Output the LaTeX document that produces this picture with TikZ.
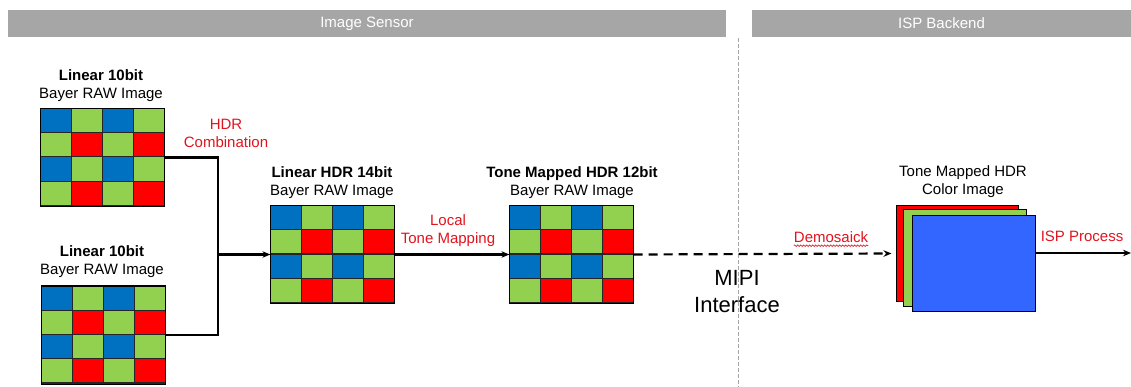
\documentclass[tikz,border=0pt]{standalone}
\usepackage{fontspec}
\setmainfont{Liberation Sans}
\usetikzlibrary{arrows.meta,calc,decorations.pathmorphing}
\definecolor{bblue}{HTML}{0070C0}
\definecolor{bgreen}{HTML}{92D050}
\definecolor{bred}{HTML}{FF0000}
\definecolor{hdrgray}{HTML}{A6A6A6}
\definecolor{lblred}{HTML}{E0141E}
\definecolor{imgblue}{HTML}{3366FF}
\tikzset{
  hdrbar/.style={fill=hdrgray,draw=none,inner sep=0pt,text=white,font=\fontsize{15}{17}\selectfont},
  gridbox/.style={draw=black,line width=1.2pt,minimum width=123pt,minimum height=97pt,inner sep=0pt},
  lbl/.style={align=center,inner sep=0pt,font=\fontsize{15}{18}\selectfont},
  redlbl/.style={lbl,text=lblred},
  conn/.style={line width=2.2pt,black},
  tip/.style={-{Stealth[length=8pt,width=6.5pt]}},
  dashconn/.style={conn,dash pattern=on 9pt off 6pt},
  layer/.style={draw=black,line width=1pt,inner sep=0pt},
}
\newcommand\bayergrid[1]{%
  \foreach \r in {0,1,2,3}{\foreach \c in {0,1,2,3}{%
    \pgfmathtruncatemacro\ev{mod(\r,2)}%
    \pgfmathtruncatemacro\ec{mod(\c,2)}%
    \ifnum\ev=0 \ifnum\ec=0 \def\cc{bblue}\else\def\cc{bgreen}\fi
    \else \ifnum\ec=0 \def\cc{bgreen}\else\def\cc{bred}\fi\fi
    \path[fill=\cc,draw=black!85,line width=1.2pt]
      ($(#1.north west)!{\c/4}!(#1.north east)$) ++(0,{24.25*\r}) rectangle ++(30.75,24.25);
  }}%
  \draw[line width=1.2pt] (#1.north west) rectangle (#1.south east);
}
\begin{document}
\begin{tikzpicture}[x=1pt,y=-1pt]
\useasboundingbox (0,0) rectangle (1131,387);
% headers
\node[hdrbar,minimum width=718pt,minimum height=27pt] (hs) at (367,23.5) {Image Sensor};
\node[hdrbar,minimum width=379pt,minimum height=27pt] (hi) at (941.5,23.5) {ISP Backend};
% separator
\coordinate (septop) at (738,38);
\coordinate (sepbot) at (738,387);
\draw[black!35,line width=1pt,dash pattern=on 4pt off 2pt] (septop) -- (sepbot);
% grids
\node[gridbox] (g1) at (102.5,157.5) {};
\node[gridbox] (g2) at (103.5,335) {};
\node[gridbox] (g3) at (332.5,254.5) {};
\node[gridbox] (g4) at (571.5,254.5) {};
\bayergrid{g1}\bayergrid{g2}\bayergrid{g3}\bayergrid{g4}
% labels
\node[lbl] (l1) at (101,86) {\textbf{Linear 10bit}\\Bayer RAW Image};
\node[lbl] (l2) at (102,262) {\textbf{Linear 10bit}\\Bayer RAW Image};
\node[lbl] (l3) at (332,183) {\textbf{Linear HDR 14bit}\\Bayer RAW Image};
\node[lbl] (l4) at (572,183) {\textbf{Tone Mapped HDR 12bit}\\Bayer RAW Image};
\node[lbl] (l5) at (963,182) {Tone Mapped HDR\\Color Image};
\node[redlbl] (hdrc) at (226,133) {HDR\\Combination};
\node[redlbl] (ltm) at (448,231) {Local\\Tone Mapping};
\node[redlbl] (demo) at (831,237) {Demosaick};
\node[redlbl] (ispp) at (1082,236) {ISP Process};
\node[align=center,inner sep=0pt,font=\fontsize{22}{27}\selectfont] (mipi) at (737,292) {MIPI\\Interface};
\draw[lblred,line width=0.6pt,decorate,decoration={snake,amplitude=0.8pt,segment length=3pt}]
  ($(demo.south west)+(0,3)$) -- ($(demo.south east)+(0,3)$);
% stacked colour image
\node[layer,fill=bred,minimum width=122pt,minimum height=95pt] (lr) at (957,253.5) {};
\node[layer,fill=bgreen,minimum width=123pt,minimum height=96pt] (lg) at (964.5,258) {};
\node[layer,fill=imgblue,minimum width=123pt,minimum height=95pt] (lb) at (973.5,263.5) {};
% connectors
\coordinate (J) at (218,254.5);
\draw[conn] (g1.east) -| (J);
\draw[conn] (g2.east) -| (J);
\draw[conn,tip] (J) -- (g3.west);
\draw[conn,tip] (g3.east) -- (g4.west);
\draw[dashconn,tip] (g4.east) -- ($(lr.west)+(-4,0)$);
\coordinate (out) at (1131,253);
\draw[conn,tip] (lb.east |- out) -- (out);
\end{tikzpicture}
\end{document}
